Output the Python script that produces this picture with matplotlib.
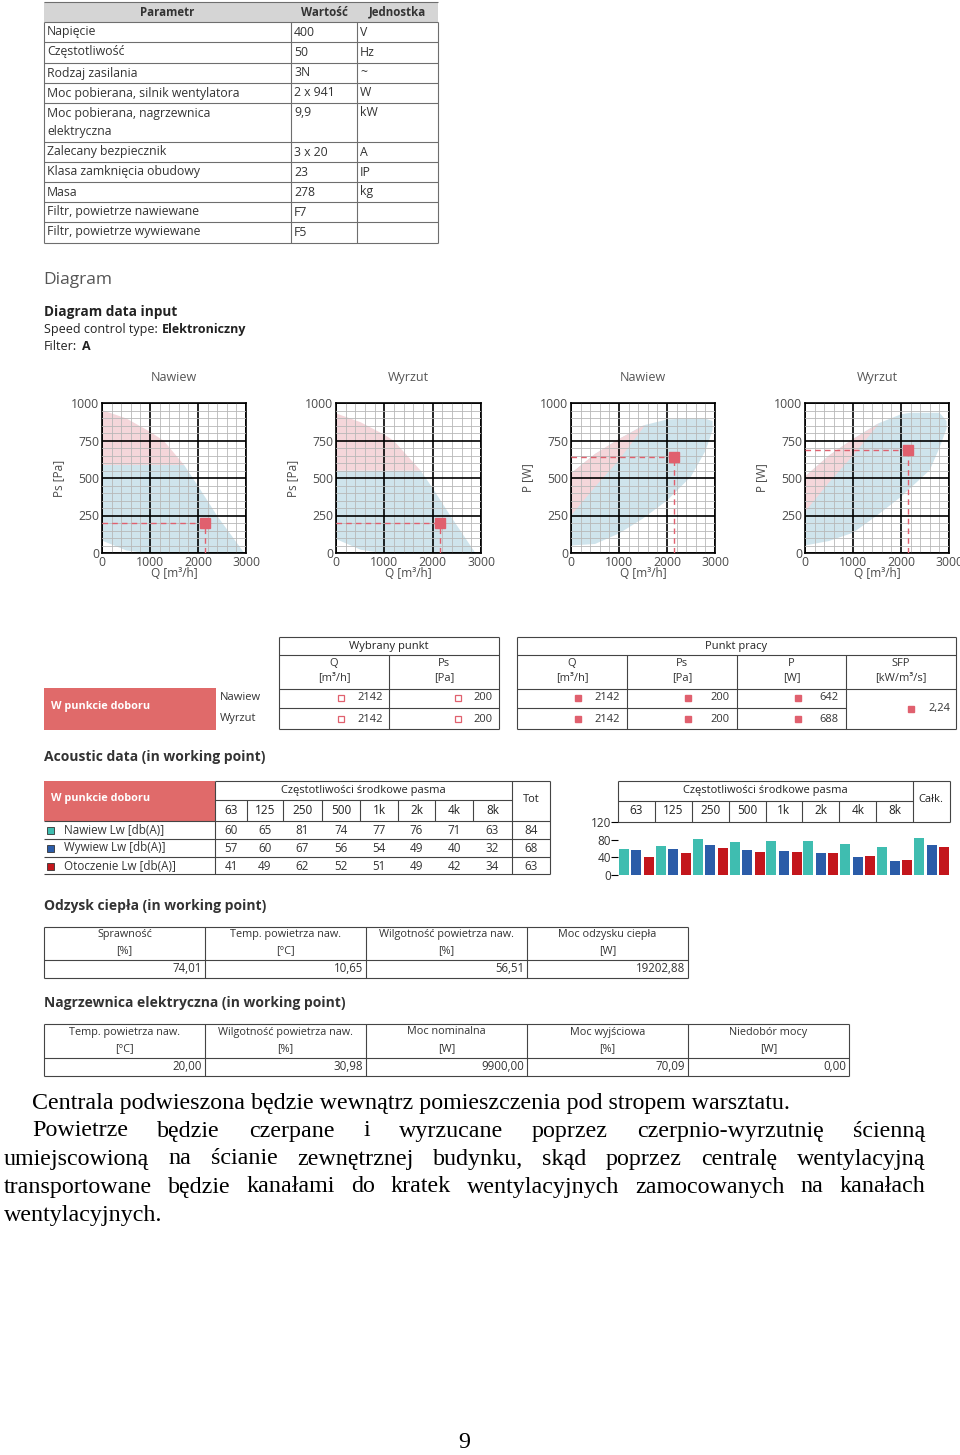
import matplotlib
matplotlib.use('Agg')
import matplotlib.pyplot as plt
from matplotlib.patches import Rectangle
from matplotlib.ticker import MultipleLocator, FixedLocator
import numpy as np

UI = ['Open Sans', 'DejaVu Sans']
SERIF = ['Liberation Serif', 'DejaVu Serif']
plt.rcParams['font.family'] = UI

# ---------------- data ----------------
param_names = ["Napięcie", "Częstotliwość", "Rodzaj zasilania", "Moc pobierana, silnik wentylatora",
               "Moc pobierana, nagrzewnica\nelektryczna", "Zalecany bezpiecznik", "Klasa zamknięcia obudowy",
               "Masa", "Filtr, powietrze nawiewane", "Filtr, powietrze wywiewane"]
param_values = ["400", "50", "3N", "2 x 941", "9,9", "3 x 20", "23", "278", "F7", "F5"]
param_units = ["V", "Hz", "~", "W", "kW", "A", "IP", "kg", "", ""]

chart_titles = ["Nawiew", "Wyrzut", "Nawiew", "Wyrzut"]
chart_ylabels = ["Ps [Pa]", "Ps [Pa]", "P [W]", "P [W]"]

# Ps charts: upper curve, lower boundary and pink/blue split level
naw_ps_q = [0, 500, 1000, 1280, 1700, 2000, 2390, 2960]
naw_ps_top = [955, 900, 810, 750, 590, 445, 250, 0]
naw_ps_low = [85, 20, 0, 0, 0, 0, 0, 0]
naw_ps_split = 590
wyr_ps_q = [0, 500, 1000, 1190, 1740, 2000, 2360, 2880]
wyr_ps_top = [933, 875, 790, 750, 553, 430, 250, 0]
wyr_ps_low = [95, 25, 0, 0, 0, 0, 0, 0]
wyr_ps_split = 553

# P charts: outline of the working area and of the pink band
naw_p_q = [0, 500, 1000, 1500, 2000, 2500, 2800, 2950, 2950, 2800, 2300, 2000, 1500, 1000, 500, 0]
naw_p_p = [50, 60, 130, 230, 350, 510, 680, 820, 880, 895, 895, 890, 850, 760, 660, 531]
naw_pink_q = [0, 500, 1000, 1550, 1000, 500, 0]
naw_pink_p = [250, 440, 620, 855, 760, 660, 531]
wyr_p_q = [0, 500, 1000, 1500, 2000, 2600, 2800, 2950, 2950, 2800, 2200, 2000, 1500, 1000, 500, 0]
wyr_p_p = [50, 80, 135, 250, 375, 553, 700, 830, 880, 935, 935, 925, 860, 760, 650, 510]
wyr_pink_q = [0, 500, 1000, 1550, 1000, 500, 0]
wyr_pink_p = [275, 470, 650, 865, 760, 650, 510]

point_Q = [2142, 2142]
point_Ps = [200, 200]
point_P = [642, 688]
point_SFP = "2,24"
point_rows = ["Nawiew", "Wyrzut"]

bands = ["63", "125", "250", "500", "1k", "2k", "4k", "8k"]
lw_labels = ["Nawiew Lw [db(A)]", "Wywiew Lw [db(A)]", "Otoczenie Lw [db(A)]"]
lw_nawiew = [60, 65, 81, 74, 77, 76, 71, 63]
lw_wywiew = [57, 60, 67, 56, 54, 49, 40, 32]
lw_otoczenie = [41, 49, 62, 52, 51, 49, 42, 34]
lw_tot = [84, 68, 63]

hr_headers = ["Sprawność", "Temp. powietrza naw.", "Wilgotność powietrza naw.", "Moc odzysku ciepła"]
hr_units = ["[%]", "[°C]", "[%]", "[W]"]
hr_values = ["74,01", "10,65", "56,51", "19202,88"]

eh_headers = ["Temp. powietrza naw.", "Wilgotność powietrza naw.", "Moc nominalna", "Moc wyjściowa", "Niedobór mocy"]
eh_units = ["[°C]", "[%]", "[W]", "[%]", "[W]"]
eh_values = ["20,00", "30,98", "9900,00", "70,09", "0,00"]

body_line1 = "Centrala podwieszona będzie wewnątrz pomieszczenia pod stropem warsztatu."
body_para = ["Powietrze będzie czerpane i wyrzucane poprzez czerpnio-wyrzutnię ścienną",
             "umiejscowioną na ścianie zewnętrznej budynku, skąd poprzez centralę wentylacyjną",
             "transportowane będzie kanałami do kratek wentylacyjnych zamocowanych na kanałach",
             "wentylacyjnych."]
page_no = "9"

# ---------------- styles ----------------
W, H = 960, 1455
TXT = '#333333'
GRID = '#6e6e6e'
RED = '#e06a6a'
MARK = '#e0606e'
PINK = '#f4d6da'
BLUE = '#cfe4ec'
C_NAW = '#3fbdb0'
C_WYW = '#2b5ca8'
C_OTO = '#c3161c'
FS = 8.8      # table text size
FS2 = 8.0     # smaller table text

fig = plt.figure(figsize=(W / 100, H / 100), dpi=100)
fig.patch.set_facecolor('white')
ax0 = fig.add_axes([0, 0, 1, 1])
ax0.set_xlim(0, W)
ax0.set_ylim(H, 0)
ax0.axis('off')
renderer = fig.canvas.get_renderer()


def T(x, y, s, size=FS, color=TXT, ha='left', va='center', weight='normal', family=UI, **kw):
    return ax0.text(x, y, s, fontsize=size, color=color, ha=ha, va=va, fontweight=weight,
                    family=family, **kw)


def L(x0, y0, x1, y1, color=GRID, lw=0.8):
    ax0.plot([x0, x1], [y0, y1], color=color, lw=lw, solid_capstyle='butt')


def R(x0, y0, x1, y1, fc, ec='none', lw=0):
    ax0.add_patch(Rectangle((x0, y0), x1 - x0, y1 - y0, facecolor=fc, edgecolor=ec, lw=lw))


def add_ax(l, t, r, b):
    return fig.add_axes([l / W, 1 - b / H, (r - l) / W, (b - t) / H])


def width(t):
    return t.get_window_extent(renderer).width


# ---------------- top parameter table ----------------
tx = [44, 291, 357, 438]
ty = [2, 22, 42, 63, 83, 103, 142, 162, 182, 202, 222, 243]
R(44, 2, 438, 22, '#d5d5d5')
T((tx[0] + tx[1]) / 2, 12, "Parametr", weight='bold', ha='center', size=8.3)
T((tx[1] + tx[2]) / 2, 12, "Wartość", weight='bold', ha='center', size=8.3)
T((tx[2] + tx[3]) / 2, 12, "Jednostka", weight='bold', ha='center', size=8.3)
for yy in ty:
    L(44, yy, 438, yy)
for xx in tx:
    L(xx, 22, xx, 243)
for i, (n, v, u) in enumerate(zip(param_names, param_values, param_units)):
    top = ty[i + 1]
    for k, line in enumerate(n.split('\n')):
        T(47, top + 10 + 18 * k, line)
    T(tx[1] + 3, top + 10, v)
    T(tx[2] + 3, top + 10, u)

# ---------------- diagram headings ----------------
T(43, 280, "Diagram", size=12.5, color='#555555')
T(44, 312, "Diagram data input", size=9.8, color='#222222', weight='bold')
t1 = T(44, 329, "Speed control type:", size=9, color='#222222')
T(44 + width(t1) + 4, 329, "Elektroniczny", size=9, color='#222222', weight='bold')
t2 = T(44, 347, "Filter:", size=9, color='#222222')
T(44 + width(t2) + 5, 347, "A", size=9, color='#222222', weight='bold')

# ---------------- four characteristic charts ----------------
chart_boxes = [(102, 403, 246, 553), (336, 403, 481, 553), (571, 403, 715, 553), (805, 403, 949, 553)]
chart_axes = []
for i, box in enumerate(chart_boxes):
    ax = add_ax(*box)
    ax.set_xlim(0, 3000)
    ax.set_ylim(0, 1000)
    ax.xaxis.set_major_locator(FixedLocator([0, 1000, 2000, 3000]))
    ax.yaxis.set_major_locator(FixedLocator([0, 250, 500, 750, 1000]))
    ax.xaxis.set_minor_locator(MultipleLocator(200))
    ax.yaxis.set_minor_locator(MultipleLocator(50))
    ax.grid(which='minor', color='#b8b8b8', lw=0.6)
    ax.grid(which='major', color='black', lw=1.2)
    ax.set_axisbelow(False)
    ax.tick_params(which='both', length=0, labelsize=8.8, labelcolor='#4a4a4a', pad=2)
    for sp in ax.spines.values():
        sp.set_color('black')
        sp.set_linewidth(1.2)
    ax.set_title(chart_titles[i], fontsize=9, color='#555555', pad=16)
    ax.set_xlabel("Q [m³/h]", fontsize=8.5, color='#4a4a4a', labelpad=-1)
    ax.set_ylabel(chart_ylabels[i], fontsize=8.5, color='#4a4a4a', labelpad=4)
    chart_axes.append(ax)


def ps_fill(ax, q, top, low, split):
    q = np.array(q); top = np.array(top); low = np.array(low)
    ax.fill_between(q, low, np.minimum(top, split), color=BLUE, lw=0, zorder=0.5)
    ax.fill_between(q, split, top, where=top >= split, interpolate=True, color=PINK, lw=0, zorder=0.5)


ps_fill(chart_axes[0], naw_ps_q, naw_ps_top, naw_ps_low, naw_ps_split)
ps_fill(chart_axes[1], wyr_ps_q, wyr_ps_top, wyr_ps_low, wyr_ps_split)
chart_axes[2].fill(naw_p_q, naw_p_p, color=BLUE, lw=0, zorder=0.5)
chart_axes[2].fill(naw_pink_q, naw_pink_p, color=PINK, lw=0, zorder=0.6)
chart_axes[3].fill(wyr_p_q, wyr_p_p, color=BLUE, lw=0, zorder=0.5)
chart_axes[3].fill(wyr_pink_q, wyr_pink_p, color=PINK, lw=0, zorder=0.6)

chart_points = [(point_Q[0], point_Ps[0]), (point_Q[1], point_Ps[1]),
                (point_Q[0], point_P[0]), (point_Q[1], point_P[1])]
for ax, (q, v) in zip(chart_axes, chart_points):
    ax.plot([0, q], [v, v], color=MARK, lw=1, dashes=(4, 3), zorder=3)
    ax.plot([q, q], [0, v], color=MARK, lw=1, dashes=(4, 3), zorder=3)
    ax.plot([q], [v], marker='s', ms=7, color=MARK, zorder=4, clip_on=False)

# ---------------- selected / working point tables ----------------
R(44, 688, 216, 730, RED)
T(51, 707, "W punkcie doboru", size=7.8, color='white', weight='bold')
T(220, 697, point_rows[0], size=FS2)
T(220, 718, point_rows[1], size=FS2)

LC = '#444444'
# Wybrany punkt
L(279, 637, 499, 637, LC); L(279, 655, 499, 655, LC); L(279, 689, 499, 689, LC)
L(279, 708, 499, 708, LC); L(279, 729, 499, 729, LC)
L(279, 637, 279, 729, LC); L(499, 637, 499, 729, LC); L(389, 655, 389, 729, LC)
T(389, 646, "Wybrany punkt", size=FS2, ha='center', color='#222222')
T(334, 663, "Q", size=FS2, ha='center'); T(334, 678, "[m³/h]", size=FS2, ha='center')
T(444, 663, "Ps", size=FS2, ha='center'); T(444, 678, "[Pa]", size=FS2, ha='center')
for k, yy in enumerate([698, 719]):
    ax0.plot([341], [yy], marker='s', ms=5, mfc='none', mec=MARK, mew=0.9)
    T(383, yy, str(point_Q[k]), size=FS2, ha='right')
    ax0.plot([458], [yy], marker='s', ms=5, mfc='none', mec=MARK, mew=0.9)
    T(493, yy, str(point_Ps[k]), size=FS2, ha='right')

# Punkt pracy
pc = [517, 627, 737, 846, 956]
for yy in [637, 655, 689, 729]:
    L(517, yy, 956, yy, LC)
L(517, 708, 846, 708, LC)
L(517, 637, 517, 729, LC); L(956, 637, 956, 729, LC)
for xx in pc[1:4]:
    L(xx, 655, xx, 729, LC)
T(736, 646, "Punkt pracy", size=FS2, ha='center', color='#222222')
heads = [("Q", "[m³/h]"), ("Ps", "[Pa]"), ("P", "[W]"), ("SFP", "[kW/m³/s]")]
for j, (a, b) in enumerate(heads):
    cx = (pc[j] + pc[j + 1]) / 2
    T(cx, 663, a, size=FS2, ha='center'); T(cx, 678, b, size=FS2, ha='center')
work_cols = [point_Q, point_Ps, point_P]
for k, yy in enumerate([698, 719]):
    for j in range(3):
        ax0.plot([pc[j] + 61], [yy], marker='s', ms=5, color=MARK)
        T(pc[j + 1] - 7, yy, str(work_cols[j][k]), size=FS2, ha='right')
ax0.plot([911], [709], marker='s', ms=5, color=MARK)
T(950, 708, point_SFP, size=FS2, ha='right')

# ---------------- acoustic data ----------------
T(44, 757, "Acoustic data (in working point)", size=10, weight='bold', color='#333333')
ac = [215, 247, 283, 322, 360, 398, 435, 473, 512, 550]
R(44, 781, 215, 821, RED)
T(51, 799, "W punkcie doboru", size=7.8, color='white', weight='bold')
L(215, 781, 550, 781, LC)
L(215, 800, 512, 800, LC)
for yy in [821, 839, 857, 874]:
    L(44, yy, 550, yy, LC)
L(215, 781, 215, 874, LC); L(512, 781, 512, 874, LC); L(550, 781, 550, 874, LC)
for xx in ac[1:8]:
    L(xx, 800, xx, 821, LC)
T(363, 790, "Częstotliwości środkowe pasma", size=FS2, ha='center', color='#222222')
T(531, 799, "Tot", size=FS2, ha='center', color='#222222')
for j, b in enumerate(bands):
    T((ac[j] + ac[j + 1]) / 2, 810, b, size=FS2 + 0.5, ha='center', color='#222222')
lw_rows = [lw_nawiew, lw_wywiew, lw_otoczenie]
lw_cols = [C_NAW, C_WYW, C_OTO]
for k, (lab, vals) in enumerate(zip(lw_labels, lw_rows)):
    yy = 830 + 18 * k
    R(47, yy - 3, 54, yy + 4, lw_cols[k], ec='#333333', lw=0.6)
    T(64, yy, lab, size=8.4)
    for j, v in enumerate(vals):
        T((ac[j] + ac[j + 1]) / 2, yy, str(v), size=8.4, ha='center')
    T(531, yy, str(lw_tot[k]), size=8.4, ha='center')

# bar chart header
bx0, bx1 = 618, 950
gw = (913 - bx0) / 8
L(618, 781, 950, 781, LC); L(618, 801, 913, 801, LC); L(618, 822, 950, 822, LC)
L(618, 781, 618, 822, LC); L(950, 781, 950, 822, LC); L(913, 781, 913, 822, LC)
for j in range(1, 8):
    L(bx0 + gw * j, 801, bx0 + gw * j, 822, LC)
T((618 + 913) / 2, 790, "Częstotliwości środkowe pasma", size=FS2, ha='center', color='#222222')
T(931, 800, "Całk.", size=FS2, ha='center', color='#222222')
for j, b in enumerate(bands):
    T(bx0 + gw * (j + 0.5), 811, b, size=FS2 + 0.5, ha='center', color='#222222')

axb = add_ax(bx0, 822, bx1, 875)
bar_cats = bands + ["Całk."]
xs = np.arange(len(bar_cats))
series = [lw_nawiew + [lw_tot[0]], lw_wywiew + [lw_tot[1]], lw_otoczenie + [lw_tot[2]]]
for k, (vals, c) in enumerate(zip(series, lw_cols)):
    axb.bar(xs + (k - 1) * 0.34, vals, width=0.27, color=c, lw=0)
axb.set_xlim(-0.5, len(bar_cats) - 0.5)
axb.set_ylim(0, 120)
axb.set_yticks([0, 40, 80, 120])
axb.set_xticks([])
for s in ['top', 'right', 'bottom', 'left']:
    axb.spines[s].set_visible(False)
axb.tick_params(axis='y', length=5, width=0.8, labelsize=8.5, labelcolor='#333333', pad=0)
axb.patch.set_alpha(0)

# ---------------- heat recovery table ----------------
T(44, 906, "Odzysk ciepła (in working point)", size=10, weight='bold', color='#333333')
hc = [44, 205, 366, 527, 688]
for yy in [927, 960, 978]:
    L(44, yy, 688, yy, LC)
for xx in hc:
    L(xx, 927, xx, 978, LC)
for j in range(4):
    cx = (hc[j] + hc[j + 1]) / 2
    T(cx, 935, hr_headers[j], size=7.8, ha='center')
    T(cx, 951, hr_units[j], size=7.8, ha='center')
    T(hc[j + 1] - 3, 969, hr_values[j], size=8.3, ha='right')

# ---------------- electric heater table ----------------
T(44, 1003, "Nagrzewnica elektryczna (in working point)", size=10, weight='bold', color='#333333')
ec_ = [44, 205, 366, 527, 688, 849]
for yy in [1024, 1058, 1076]:
    L(44, yy, 849, yy, LC)
for xx in ec_:
    L(xx, 1024, xx, 1076, LC)
for j in range(5):
    cx = (ec_[j] + ec_[j + 1]) / 2
    T(cx, 1032, eh_headers[j], size=7.8, ha='center')
    T(cx, 1049, eh_units[j], size=7.8, ha='center')
    T(ec_[j + 1] - 3, 1067, eh_values[j], size=8.3, ha='right')

# ---------------- body text ----------------
BODY = 17.3
T(32, 1103, body_line1, size=BODY, family=SERIF, color='black')


def justify(line, x0, x1, y):
    words = line.split(' ')
    ts = [T(0, y, w, size=BODY, family=SERIF, color='black') for w in words]
    ws = [width(t) for t in ts]
    gap = (x1 - x0 - sum(ws)) / max(len(words) - 1, 1)
    x = x0
    for t, w in zip(ts, ws):
        t.set_x(x)
        x += w + gap


justify(body_para[0], 32, 925, 1131)
justify(body_para[1], 4, 925, 1159)
justify(body_para[2], 4, 925, 1187)
T(4, 1215, body_para[3], size=BODY, family=SERIF, color='black')
T(464, 1443, page_no, size=BODY, family=SERIF, color='black', ha='center')

fig.savefig('out.png', dpi=100, facecolor='white')
